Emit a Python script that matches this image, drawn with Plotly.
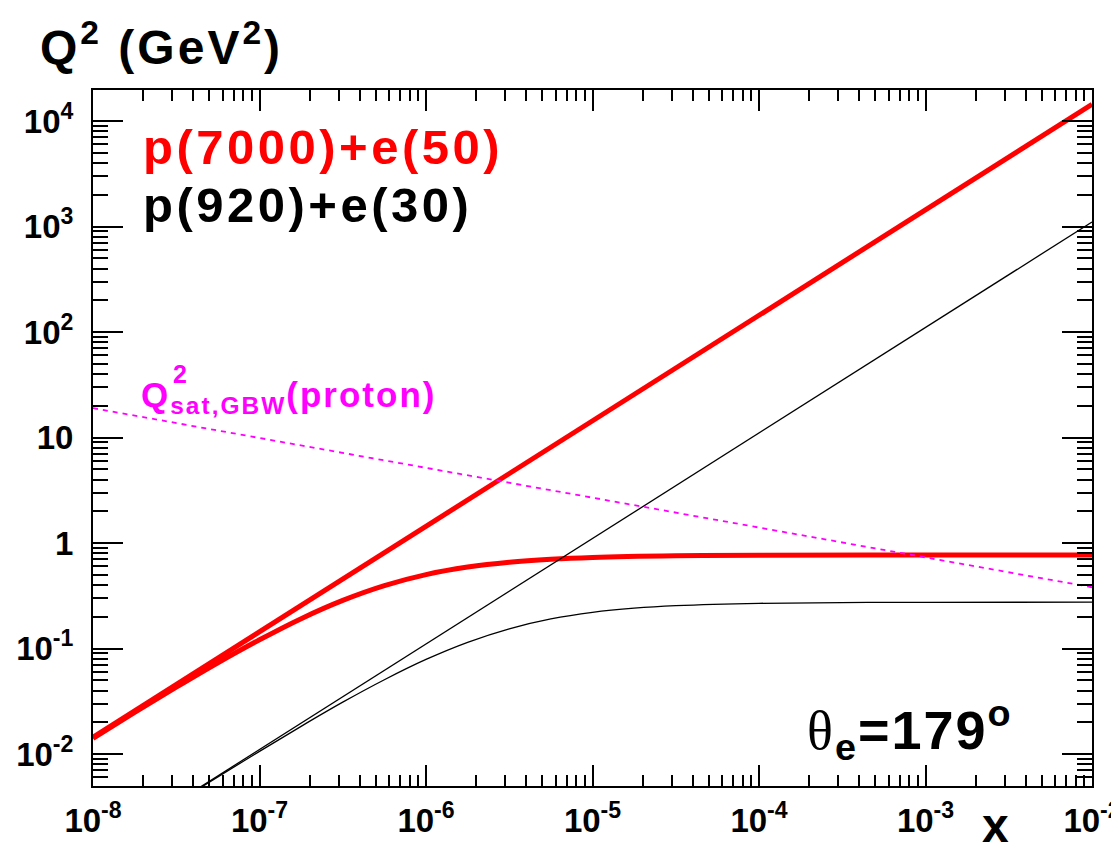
import plotly.graph_objects as go

# ---- data ----
log_x_dense = [-8, -7.75, -7.5, -7.25, -7, -6.75, -6.5, -6.25, -6, -5.75, -5.5, -5.25, -5, -4.5, -4, -3, -2]
x_dense = [10 ** v for v in log_x_dense]

# p(7000)+e(50): y=1 kinematic limit (straight line) and theta_e=179 deg curve
red_upper_x = [1e-8, 1e-7, 1e-6, 1e-5, 1e-4, 1e-3, 1e-2]
red_upper_q2 = [0.0144, 0.144, 1.44, 14.4, 144, 1440, 14400]
red_lower_q2 = [0.0141, 0.0248, 0.0430, 0.0733, 0.121, 0.192, 0.286, 0.395, 0.502,
                0.592, 0.659, 0.703, 0.731, 0.757, 0.766, 0.770, 0.770]

# p(920)+e(30)
black_upper_x = [3.162e-8, 1e-7, 1e-6, 1e-5, 1e-4, 1e-3, 1e-2]
black_upper_q2 = [0.00349, 0.01104, 0.1104, 1.104, 11.04, 110.4, 1104]
black_lower_x = [3.98e-8, 5.623e-8, 1e-7, 1.778e-7, 3.162e-7, 5.623e-7, 1e-6, 1.778e-6,
                 3.162e-6, 5.623e-6, 1e-5, 1.778e-5, 3.162e-5, 1e-4, 1e-3, 1e-2]
black_lower_q2 = [0.00433, 0.00607, 0.0106, 0.0183, 0.0310, 0.0506, 0.0788, 0.1145,
                  0.1538, 0.1906, 0.2202, 0.2412, 0.2549, 0.2683, 0.2743, 0.2749]

# Q^2_sat (GBW, proton)
sat_x = [1e-8, 1e-7, 1e-6, 1e-5, 1e-4, 1e-3, 1e-2]
sat_q2 = [19.0, 9.90, 5.16, 2.69, 1.40, 0.731, 0.381]

x_tickvals = [1e-8, 1e-7, 1e-6, 1e-5, 1e-4, 1e-3, 1e-2]
x_ticktext = ["10<sup>-8</sup>", "10<sup>-7</sup>", "10<sup>-6</sup>", "10<sup>-5</sup>",
              "10<sup>-4</sup>", "10<sup>-3</sup>", "10<sup>-2</sup>"]
y_tickvals = [1e-2, 1e-1, 1, 10, 1e2, 1e3, 1e4]
y_ticktext = ["10<sup>-2</sup>", "10<sup>-1</sup>", "1", "10", "10<sup>2</sup>",
              "10<sup>3</sup>", "10<sup>4</sup>"]

# ---- figure ----
W, H = 1119, 853
L, R, T, B = 85, 6, 82, 75
PW, PH = W - L - R, H - T - B


def px(xp, yp):
    return (xp - L) / PW, (H - B - yp) / PH


FONT = "Liberation Sans, Arial, Helvetica, sans-serif"
RED = "#ff0000"
MAG = "#ff00ff"

fig = go.Figure()
fig.add_trace(go.Scatter(x=red_upper_x, y=red_upper_q2, mode="lines",
                         line=dict(color=RED, width=5), showlegend=False))
fig.add_trace(go.Scatter(x=x_dense, y=red_lower_q2, mode="lines",
                         line=dict(color=RED, width=5, shape="spline"), showlegend=False))
fig.add_trace(go.Scatter(x=black_upper_x, y=black_upper_q2, mode="lines",
                         line=dict(color="black", width=1.3), showlegend=False))
fig.add_trace(go.Scatter(x=black_lower_x, y=black_lower_q2, mode="lines",
                         line=dict(color="black", width=1.3, shape="spline"), showlegend=False))
fig.add_trace(go.Scatter(x=sat_x, y=sat_q2, mode="lines",
                         line=dict(color=MAG, width=1.8, dash="5px,5px"), showlegend=False))

axis_common = dict(type="log", showgrid=False, zeroline=False, showline=True,
                   linecolor="black", linewidth=2, mirror="ticks", ticks="inside",
                   tickcolor="black", tickwidth=2, ticklabeloverflow="allow")

fig.update_xaxes(**axis_common, range=[-8, -2], tickvals=x_tickvals, ticktext=x_ticktext,
                 ticklen=21, ticklabelstandoff=4,
                 tickfont=dict(family=FONT, size=33, color="black", weight="bold"),
                 minor=dict(ticks="inside", ticklen=11, tickwidth=1.5, tickcolor="black",
                            dtick="D1", showgrid=False))
fig.update_yaxes(**axis_common, range=[-2.303, 4.294], tickvals=y_tickvals, ticktext=y_ticktext,
                 ticklen=30, ticklabelstandoff=11,
                 tickfont=dict(family=FONT, size=33, color="black", weight="bold"),
                 minor=dict(ticks="inside", ticklen=15, tickwidth=1.5, tickcolor="black",
                            dtick="D1", showgrid=False))

ann = []


def add_text(text, xp, yp, size, color="black", xanchor="left", yanchor="middle", spacing=0):
    fx, fy = px(xp, yp)
    if spacing:
        text = f'<span style="letter-spacing:{spacing}px">{text}</span>'
    ann.append(dict(text=text, x=fx, y=fy, xref="paper", yref="paper", xanchor=xanchor,
                    yanchor=yanchor, showarrow=False,
                    font=dict(family=FONT, size=size, color=color, weight="bold")))


add_text("Q<sup>2</sup> (GeV<sup>2</sup>)", 28, 36, 48, spacing=3)
add_text("p(7000)+e(50)", 134, 139, 49, RED, spacing=3.5)
add_text("p(920)+e(30)", 134, 197, 49, spacing=3.5)
add_text("Q<sub>sat,GBW</sub>(proton)", 132, 389, 35, MAG, spacing=2)
add_text("2", 165, 366, 25, MAG)
add_text("<span style=\"font-family:'Liberation Serif';font-weight:normal\">θ</span>"
         "<sub>e</sub>=179<sup>o</sup>", 818, 722, 54, spacing=2)
add_text("x", 1014, 846, 48, xanchor="center", yanchor="bottom")

fig.update_layout(width=W, height=H, margin=dict(l=L, r=R, t=T, b=B, pad=0),
                  paper_bgcolor="white", plot_bgcolor="white", annotations=ann,
                  showlegend=False)

fig.write_html("out.html")
